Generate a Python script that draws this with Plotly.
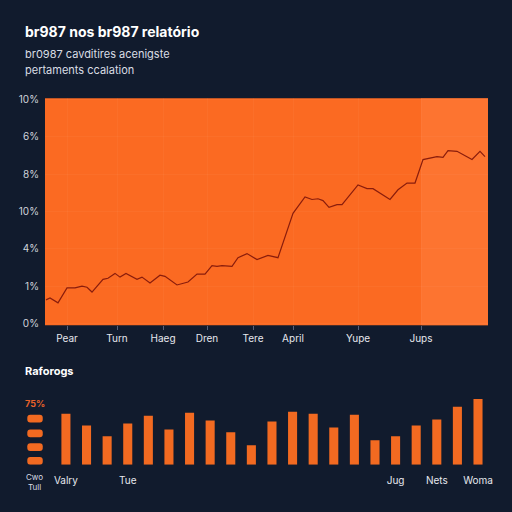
import plotly.graph_objects as go

# top chart: line readings (day index, level on the 0-6 tick scale)
days = [1, 5, 13, 22, 30, 37, 42, 47, 58, 63, 70, 75, 81, 92, 97, 105, 115, 120,
        132, 143, 152, 160, 167, 172, 177, 187, 193, 202, 212, 223, 233, 248, 260,
        267, 273, 278, 284, 292, 297, 310, 313, 322, 328, 345, 353, 362, 370, 378,
        385, 392, 398, 403, 412, 427, 435, 440]
level = [0.63, 0.68, 0.55, 0.95, 0.95, 1.0, 0.97, 0.84, 1.18, 1.21, 1.34, 1.24,
         1.34, 1.18, 1.24, 1.08, 1.29, 1.26, 1.03, 1.11, 1.32, 1.32, 1.55, 1.53,
         1.55, 1.53, 1.76, 1.87, 1.71, 1.82, 1.76, 2.95, 3.39, 3.32, 3.34, 3.29,
         3.11, 3.18, 3.18, 3.63, 3.71, 3.61, 3.61, 3.32, 3.58, 3.76, 3.76, 4.39,
         4.42, 4.47, 4.45, 4.63, 4.61, 4.39, 4.61, 4.47]
x_tickvals = [22, 72, 118, 162, 208, 248, 313, 376]
x_ticktext = ["Pear", "Turn", "Haeg", "Dren", "Tere", "April", "Yupe", "Jups"]
y_tickvals = [0, 1, 2, 3, 4, 5, 6]
y_ticktext = ["0%", "1%", "4%", "10%", "8%", "6%", "10%"]

# bottom chart: bars
bar_vals = [52, 40, 29, 42, 50, 36, 53, 45, 33, 20, 44, 54, 52, 38, 51, 25, 29,
            40, 46, 59, 67]
bar_tickvals = [0, 3, 16, 18, 20]
bar_ticktext = ["Valry", "Tue", "Jug", "Nets", "Woma"]
key_base = [0, 14, 28, 43]
key_size = [8, 8, 8, 8]

BG = "#111b2d"
ORANGE = "#fb6a22"
BAR = "#f26a21"
FONT = "Inter, Roboto, sans-serif"

fig = go.Figure()

# line chart
fig.add_trace(go.Scatter(x=days, y=level, mode="lines",
                         line=dict(color="#8a1d0c", width=1.2),
                         xaxis="x", yaxis="y", showlegend=False))

# bars
fig.add_trace(go.Bar(x=list(range(len(bar_vals))), y=bar_vals, width=0.44,
                     marker=dict(color=BAR, line_width=0),
                     xaxis="x2", yaxis="y2", showlegend=False))
# little key stack at the left
fig.add_trace(go.Bar(x=[-1.5] * len(key_base), y=key_size, base=key_base, width=0.75,
                     marker=dict(color=BAR, line_width=0, cornerradius=3),
                     xaxis="x2", yaxis="y2", showlegend=False))

fig.update_layout(
    width=512, height=512,
    margin=dict(l=0, r=0, t=0, b=0),
    paper_bgcolor=BG, plot_bgcolor=BG,
    font=dict(family=FONT, color="#d9dde4", size=10),
    barmode="overlay",
    xaxis=dict(domain=[45 / 512, 488 / 512], range=[0, 443], anchor="y",
               tickvals=x_tickvals, ticktext=x_ticktext, ticks="outside",
               ticklen=4, tickcolor="#56607a", showgrid=True,
               gridcolor="rgba(255,255,255,0.035)", zeroline=False,
               tickfont=dict(size=10, color="#e6e8ee")),
    yaxis=dict(domain=[186 / 512, 417 / 512], range=[-0.05, 6.03], anchor="x",
               tickvals=y_tickvals, ticktext=y_ticktext, showgrid=True,
               gridcolor="rgba(255,255,255,0.035)", zeroline=False,
               ticks="", ticklabelstandoff=5,
               tickfont=dict(size=10, color="#d0d4dc")),
    xaxis2=dict(domain=[0, 1], range=[-3.2, 21.65], anchor="y2",
                tickvals=bar_tickvals, ticktext=bar_ticktext, showgrid=False,
                zeroline=False, ticks="outside", ticklen=6, tickcolor=BG,
                tickfont=dict(size=10, color="#e6e8ee")),
    yaxis2=dict(domain=[44 / 512, 117 / 512], range=[0, 73], anchor="x2",
                visible=False),
    shapes=[dict(type="rect", xref="x domain", yref="y domain", x0=0, x1=1,
                 y0=0, y1=1, fillcolor=ORANGE, line_width=0, layer="below"),
            dict(type="rect", xref="x", yref="y domain", x0=376, x1=443,
                 y0=0, y1=1, fillcolor="#ff7b3a", opacity=0.6, line_width=0,
                 layer="below")],
    annotations=[
        dict(text="<b>br987 nos br987 relatório</b>", x=23 / 512, y=1 - 27 / 512,
             xref="paper", yref="paper", xanchor="left", yanchor="middle",
             showarrow=False, font=dict(size=14, color="#ffffff")),
        dict(text="br0987 cavditires acenigste", x=23 / 512, y=1 - 50 / 512,
             xref="paper", yref="paper", xanchor="left", yanchor="middle",
             showarrow=False, font=dict(size=11, color="#d9dde4")),
        dict(text="pertaments ccalation", x=23 / 512, y=1 - 66 / 512,
             xref="paper", yref="paper", xanchor="left", yanchor="middle",
             showarrow=False, font=dict(size=11, color="#d9dde4")),
        dict(text="<b>Raforogs</b>", x=23 / 512, y=1 - 373 / 512,
             xref="paper", yref="paper", xanchor="left", yanchor="middle",
             showarrow=False, font=dict(size=11, color="#ffffff")),
        dict(text="<b>75%</b>", x=23 / 512, y=1 - 406 / 512,
             xref="paper", yref="paper", xanchor="left", yanchor="middle",
             showarrow=False, font=dict(size=9, color="#e8622a")),
        dict(text="Cwo<br>Tull", x=34 / 512, y=1 - 486 / 512,
             xref="paper", yref="paper", xanchor="center", yanchor="middle",
             showarrow=False, font=dict(size=8, color="#d9dde4")),
    ],
)

# page body has a default margin, drop it so the 512px figure fills the window
fig.write_html("out.html", config={"displayModeBar": False},
               post_script="document.body.style.margin='0';"
                           "document.body.style.background='#111b2d';")
